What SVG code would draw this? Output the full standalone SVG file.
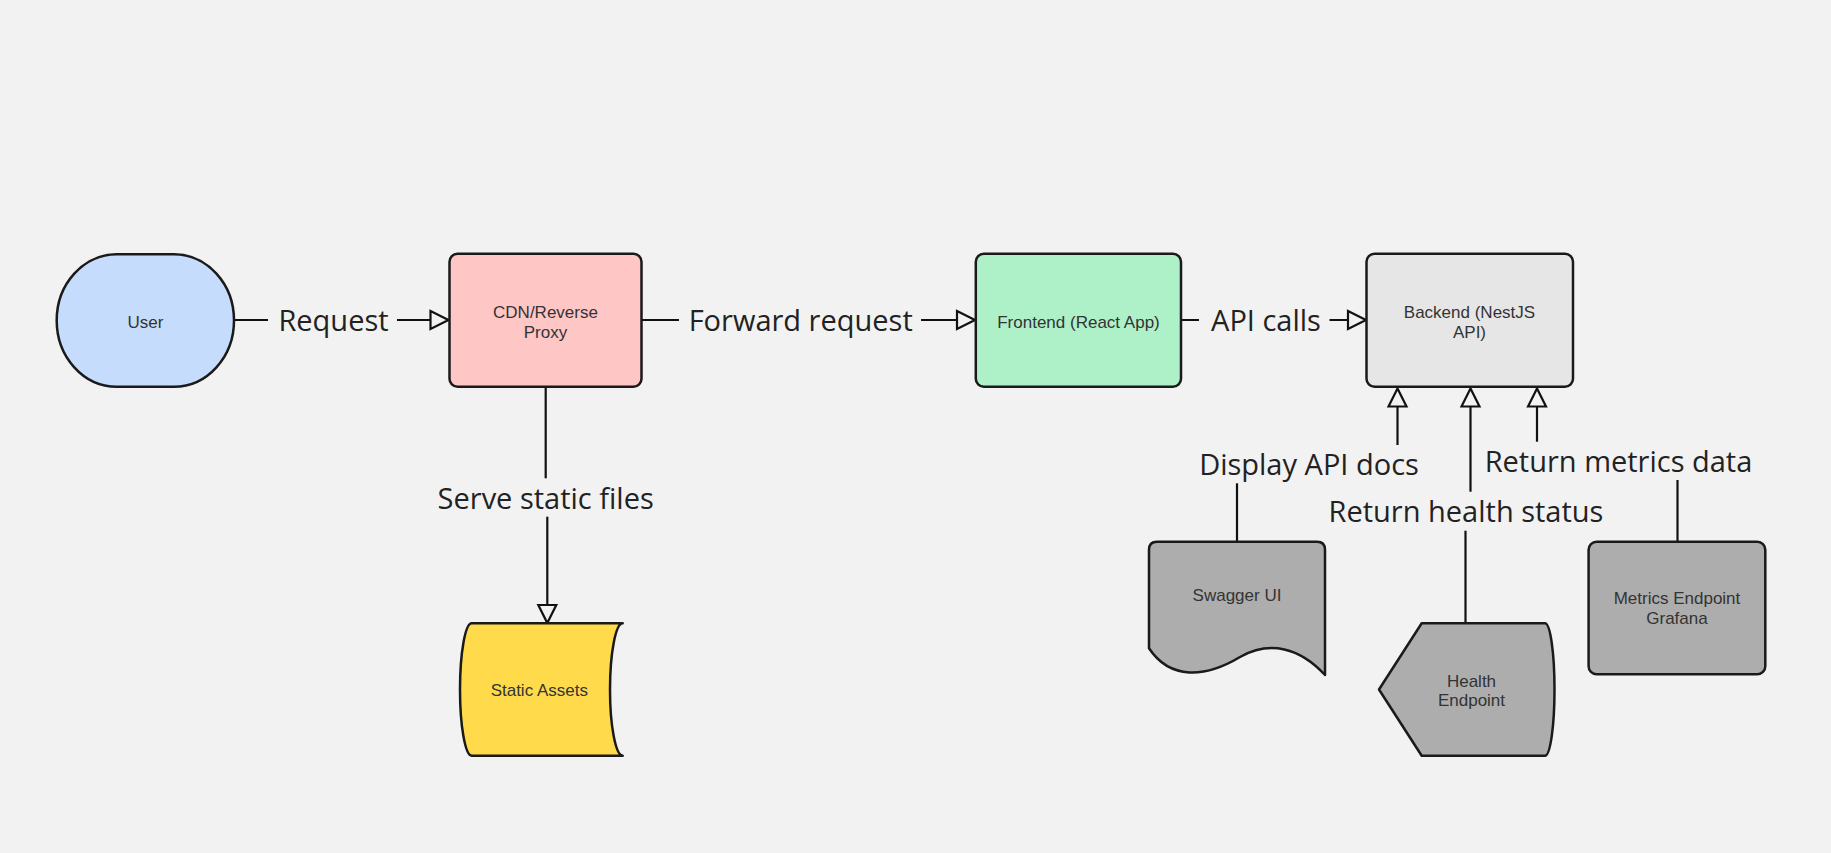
<svg xmlns="http://www.w3.org/2000/svg" width="1831" height="853" viewBox="0 0 1831 853">
<defs>
<style>
.node{stroke:#1a1a1a;stroke-width:2.5;stroke-linejoin:round}
.nt{font-family:"Liberation Sans",Arial,sans-serif;font-size:17px;fill:#333;text-anchor:middle}
.edge{fill:none;stroke:#111;stroke-width:2.2;marker-end:url(#arr)}
.lbg{fill:#f2f2f2;stroke:none}
.lt{font-family:"Open Sans","Noto Sans",sans-serif;font-size:29px;fill:#222;text-anchor:middle}
</style>
<marker id="arr" markerUnits="userSpaceOnUse" markerWidth="22" markerHeight="22" refX="0" refY="9" orient="auto" overflow="visible">
<path d="M0,0 L18,9 L0,18 Z" fill="#f2f2f2" stroke="#111" stroke-width="2.2" stroke-linejoin="miter"/>
</marker>
</defs>
<rect x="0" y="0" width="1831" height="853" fill="#f2f2f2"/>
<g id="connectors">
<path class="edge" d="M234,320 L430.5,320"/>
<path class="edge" d="M641.5,320 L957,320"/>
<path class="edge" d="M1181,320 L1348,320"/>
<path class="edge" d="M545.7,387 L545.7,498 L547.3,498 L547.3,605"/>
<path class="edge" d="M1237,541.7 L1237,465 L1397.5,465 L1397.5,406.5"/>
<path class="edge" d="M1465.5,623.3 L1465.5,512 L1470.5,512 L1470.5,406.5"/>
<path class="edge" d="M1677.5,541.7 L1677.5,462 L1537,462 L1537,406.5"/>
<rect class="lbg" x="268" y="302" width="129" height="38"/>
<text class="lt" x="333.5" y="331">Request</text>
<rect class="lbg" x="679" y="302" width="242" height="38"/>
<text class="lt" x="800.7" y="331">Forward request</text>
<rect class="lbg" x="1199" y="302" width="130.5" height="38"/>
<text class="lt" x="1266" y="331">API calls</text>
<rect class="lbg" x="425" y="478.3" width="241" height="38.4"/>
<text class="lt" x="545.7" y="509">Serve static files</text>
<rect class="lbg" x="1187" y="445" width="245" height="38.3"/>
<text class="lt" x="1309" y="474.5">Display API docs</text>
<rect class="lbg" x="1316" y="491.7" width="300" height="39"/>
<text class="lt" x="1466" y="521.7">Return health status</text>
<rect class="lbg" x="1474" y="441.7" width="291" height="38.3"/>
<text class="lt" x="1618.5" y="471.7">Return metrics data</text>
</g>
<g id="user">
<rect class="node" x="56.7" y="254.3" width="177.3" height="132.4" rx="60" ry="66.2" fill="#c6dcfc"/>
<text class="nt" x="145.5" y="327.5">User</text>
</g>
<g id="cdn">
<rect class="node" x="449.5" y="253.8" width="192" height="133" rx="8" fill="#ffc6c6"/>
<text class="nt" x="545.5" y="317.5">CDN/Reverse</text>
<text class="nt" x="545.5" y="337.5">Proxy</text>
</g>
<g id="frontend">
<rect class="node" x="975.8" y="253.8" width="205.2" height="133" rx="8" fill="#aef0c8"/>
<text class="nt" x="1078.5" y="327.5">Frontend (React App)</text>
</g>
<g id="backend">
<rect class="node" x="1366.5" y="253.8" width="206.5" height="133" rx="8" fill="#e6e6e6"/>
<text class="nt" x="1469.5" y="317.5">Backend (NestJS</text>
<text class="nt" x="1469.5" y="337.5">API)</text>
</g>
<g id="static-assets">
<path class="node" d="M471.7,623.3 L622.7,623.3 A12.7,66.2 0 0 0 622.7,755.7 L471.7,755.7 A11.7,66.2 0 0 1 471.7,623.3 Z" fill="#ffdb4c"/>
<text class="nt" x="539.3" y="695.5">Static Assets</text>
</g>
<g id="swagger">
<path class="node" d="M1157,541.7 L1317,541.7 Q1325,541.7 1325,549.7 L1325,675 C1300,648 1270,640 1240,657 C1205,678 1170,680 1149,648.3 L1149,549.7 Q1149,541.7 1157,541.7 Z" fill="#adadad"/>
<text class="nt" x="1237" y="600.5">Swagger UI</text>
</g>
<g id="health">
<path class="node" d="M1421.7,623.3 L1545,623.3 A9.5,66.2 0 0 1 1545,755.7 L1421.7,755.7 L1379,689.5 Z" fill="#adadad"/>
<text class="nt" x="1471.5" y="686.5">Health</text>
<text class="nt" x="1471.5" y="706">Endpoint</text>
</g>
<g id="metrics">
<rect class="node" x="1588.6" y="541.7" width="176.7" height="132.6" rx="8" fill="#adadad"/>
<text class="nt" x="1677" y="604">Metrics Endpoint</text>
<text class="nt" x="1677" y="624">Grafana</text>
</g>
</svg>
